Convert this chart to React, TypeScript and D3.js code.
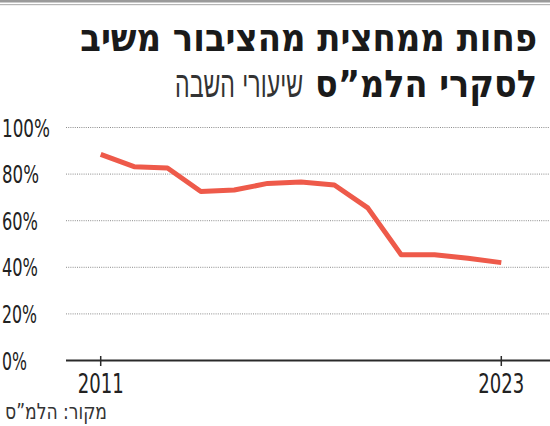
import React, { useLayoutEffect, useRef, useState } from "react";
import * as d3 from "d3";

const years = [2011, 2012, 2013, 2014, 2015, 2016, 2017, 2018, 2019, 2020, 2021, 2022, 2023];
const responseRates = [88.5, 83.2, 82.6, 72.5, 73.2, 76.0, 76.6, 75.3, 65.5, 45.4, 45.4, 43.9, 42.0];
const yTicks = [0, 20, 40, 60, 80, 100];
const xTickYears = [2011, 2023];
const titleLine1 = "פחות ממחצית מהציבור משיב";
const titleLine2Bold = "לסקרי הלמ”ס";
const titleLine2Light = "שיעורי השבה";
const sourceText = "מקור: הלמ”ס";

const W = 550;
const H = 426;

type FitProps = {
  x: number;
  y: number;
  width: number;
  anchor: "start" | "middle" | "end";
  fontFamily: string;
  fontSize: number;
  fontWeight?: number;
  fill: string;
  children: string;
};

function FitText({ x, y, width, anchor, fontFamily, fontSize, fontWeight = 400, fill, children }: FitProps) {
  const ref = useRef<SVGTextElement>(null);
  const [s, setS] = useState(1);
  useLayoutEffect(() => {
    if (ref.current) {
      const natural = ref.current.getComputedTextLength();
      if (natural > 0) setS(width / natural);
    }
  }, [width, children, fontSize, fontFamily]);
  return (
    <text
      ref={ref}
      transform={`translate(${x},${y}) scale(${s},1)`}
      textAnchor={anchor}
      fontFamily={fontFamily}
      fontSize={fontSize}
      fontWeight={fontWeight}
      fill={fill}
    >
      {children}
    </text>
  );
}

export default function App() {
  const x = d3.scaleLinear().domain([2011, 2023]).range([100.7, 501.3]);
  const y = d3.scaleLinear().domain([0, 100]).range([360.5, 127.5]);
  const line = d3
    .line<number>()
    .x((_, i) => x(years[i]))
    .y((d) => y(d));

  const numFont = "'Liberation Sans Narrow', 'DejaVu Sans Condensed', sans-serif";
  const hebFont = "'DejaVu Sans Condensed', 'DejaVu Sans', sans-serif";
  const yLabelWidths: Record<number, number> = { 100: 48, 80: 37, 60: 36, 40: 36, 20: 35, 0: 25 };

  return (
    <svg
      width={W}
      height={H}
      style={{ position: "absolute", left: 0, top: 0, background: "#fff" }}
    >
      <rect x={0} y={0} width={W} height={H} fill="#fff" />
      {/* top rules */}
      <rect x={0} y={0} width={W} height={2.5} fill="#9a9a9a" />
      <rect x={0} y={4} width={W} height={1.2} fill="#b5b5b5" />

      {/* title */}
      <FitText x={537} y={51} width={457} anchor="end" fontFamily={hebFont} fontWeight={700} fontSize={38} fill="#1a1a1a">
        {titleLine1}
      </FitText>
      <FitText x={537} y={97} width={222} anchor="end" fontFamily={hebFont} fontWeight={700} fontSize={38} fill="#1a1a1a">
        {titleLine2Bold}
      </FitText>
      <FitText x={303} y={97} width={128} anchor="end" fontFamily="'DejaVu Sans', sans-serif" fontWeight={200} fontSize={36} fill="#333">
        {titleLine2Light}
      </FitText>

      {/* gridlines */}
      {yTicks
        .filter((t) => t > 0)
        .map((t) => (
          <line
            key={t}
            x1={66}
            x2={W}
            y1={y(t)}
            y2={y(t)}
            stroke="#8c8c8c"
            strokeWidth={1}
            strokeDasharray="1,1.2"
          />
        ))}

      {/* y labels */}
      {yTicks.map((t) => (
        <FitText key={t} x={2} y={y(t) + 9} width={yLabelWidths[t]} anchor="start" fontFamily={numFont} fontSize={24} fill="#222">
          {`${t}%`}
        </FitText>
      ))}

      {/* x axis */}
      <line x1={66} x2={W} y1={y(0)} y2={y(0)} stroke="#2a2a2a" strokeWidth={2} />
      {xTickYears.map((yr) => (
        <g key={yr}>
          <line x1={x(yr)} x2={x(yr)} y1={356} y2={366} stroke="#2a2a2a" strokeWidth={1.5} />
          <FitText x={x(yr)} y={393} width={46} anchor="middle" fontFamily={numFont} fontSize={27} fill="#222">
            {String(yr)}
          </FitText>
        </g>
      ))}

      {/* data line */}
      <path
        d={line(responseRates) || ""}
        fill="none"
        stroke="#ee5a4a"
        strokeWidth={5}
        strokeLinejoin="round"
        strokeLinecap="butt"
      />

      {/* source */}
      <FitText x={107} y={419} width={102} anchor="end" fontFamily={numFont} fontSize={22} fill="#333">
        {sourceText}
      </FitText>
    </svg>
  );
}
